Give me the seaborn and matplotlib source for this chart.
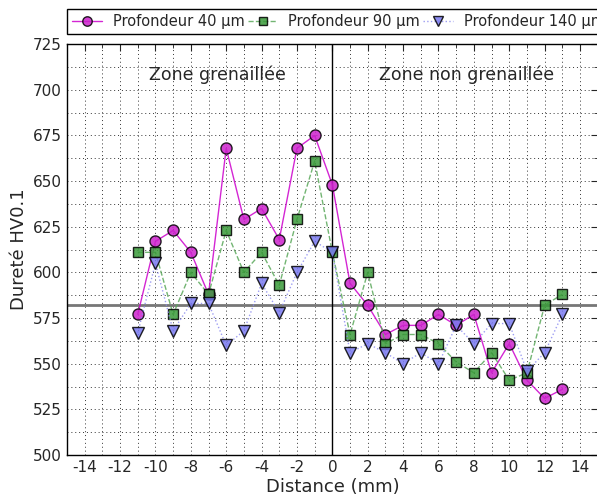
"""Profil de dureté HV0.1 selon la distance, pour trois profondeurs."""

import matplotlib
matplotlib.use("Agg")
import matplotlib.pyplot as plt
import numpy as np
import pandas as pd
import seaborn as sns
from matplotlib.ticker import MultipleLocator

distance = list(range(-11, 14))

durete_40 = [577, 617, 623, 611, 588, 668, 629, 635, 618, 668, 675, 648,
             594, 582, 566, 571, 571, 577, 571, 577, 545, 561, 541, 531, 536]
durete_90 = [611, 611, 577, 600, 588, 623, 600, 611, 593, 629, 661, 611,
             566, 600, 561, 566, 566, 561, 551, 545, 556, 541, 545, 582, 588]
durete_140 = [567, 605, 568, 583, 583, 560, 568, 594, 578, 600, 617, 611,
              556, 561, 556, 550, 556, 550, 571, 561, 572, 572, 546, 556, 577]

labels = ["Profondeur 40 µm", "Profondeur 90 µm", "Profondeur 140 µm"]
zones = ["Zone grenaillée", "Zone non grenaillée"]
seuil = 582

sns.set_style("white")
plt.rcParams["font.family"] = ["DejaVu Sans"]
plt.rcParams["axes.unicode_minus"] = False

fig = plt.figure(figsize=(5.97, 5.01), dpi=100)
ax = fig.add_axes([0.1122, 0.0918, 0.889, 0.82])

styles = [
    dict(color="#cc00cc", marker="o", linestyle="-", markerfacecolor="#cc22cc",
         markersize=8),
    dict(color="#5aa85a", marker="s", linestyle="--", markerfacecolor="#3a9a3a",
         markersize=7.3),
    dict(color="#8c8cf0", marker="v", linestyle=":", markerfacecolor="#7a7af0",
         markersize=8.5),
]

for values, label, st in zip([durete_40, durete_90, durete_140], labels, styles):
    df = pd.DataFrame({"distance": distance, "durete": values})
    sns.lineplot(data=df, x="distance", y="durete", ax=ax, label=label,
                 linewidth=1.0, markeredgecolor="black", markeredgewidth=1.0,
                 alpha=0.85, **st)

ax.axhline(seuil, color="#777777", linewidth=2, zorder=1)
ax.axvline(0, color="black", linewidth=1, zorder=1)

ax.set_xlim(-15, 15)
ax.set_ylim(500, 725)
ax.xaxis.set_major_locator(MultipleLocator(2))
ax.xaxis.set_minor_locator(MultipleLocator(1))
ax.yaxis.set_major_locator(MultipleLocator(25))
ax.yaxis.set_minor_locator(MultipleLocator(12.5))
ax.grid(True, which="both", color="#333333", linestyle=(0, (1, 3)), linewidth=0.7)
ax.tick_params(which="both", direction="in", top=True, right=True, labelsize=11)
ax.tick_params(which="major", length=5)
ax.tick_params(which="minor", length=3)
for s in ax.spines.values():
    s.set_color("black")
    s.set_linewidth(1)

ax.set_xlabel("Distance (mm)", fontsize=13, labelpad=2)
ax.set_ylabel("Dureté HV0.1", fontsize=13)

ax.text(-6.5, 708, zones[0], ha="center", va="center", fontsize=12.5)
ax.text(7.6, 708, zones[1], ha="center", va="center", fontsize=12.5)

handles, _ = ax.get_legend_handles_labels()
ax.get_legend().remove()
fig.legend(handles, labels, loc="upper left", bbox_to_anchor=(0.1122, 0.983),
           ncol=3, fontsize=10.5, frameon=True, fancybox=False, edgecolor="black",
           framealpha=1, handlelength=2.05, handletextpad=0.75, borderaxespad=0,
           columnspacing=0.2, numpoints=1, borderpad=0.35, markerscale=0.85)

fig.savefig("out.png", dpi=100)
